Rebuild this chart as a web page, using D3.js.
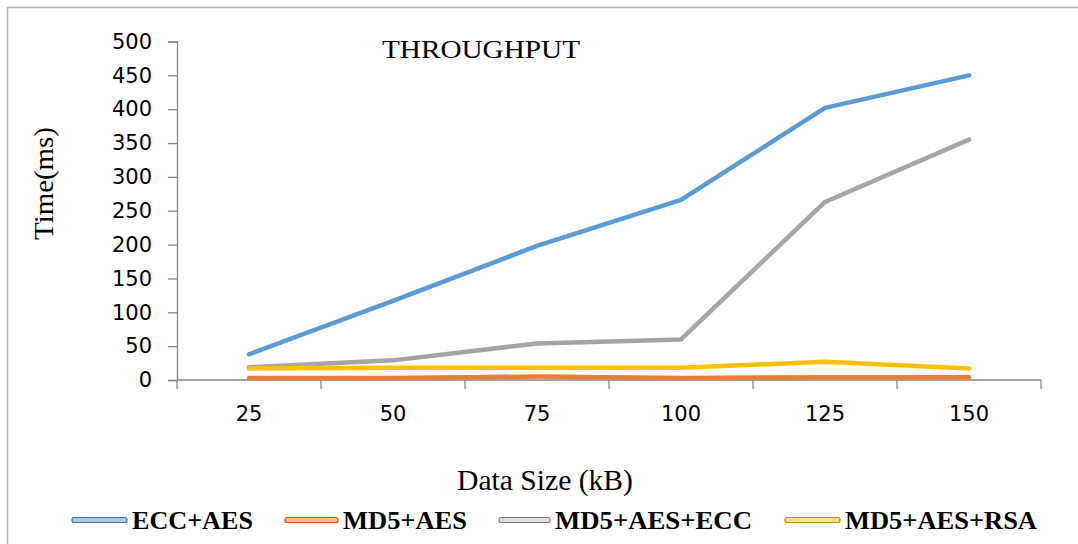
<!DOCTYPE html>
<html>
<head>
<meta charset="utf-8">
<script src="https://cdn.jsdelivr.net/npm/d3@7"></script>
<style>
  body { margin: 0; background: #fff; }
  svg { display: block; }
</style>
</head>
<body>
<svg id="chart" width="1078" height="544"></svg>
<script>
// data
const categories = ['25', '50', '75', '100', '125', '150'];
const eccAes     = [38, 117, 198, 266, 402, 450];
const md5Aes     = [3, 3, 5, 3, 4, 4];
const md5AesEcc  = [19, 29, 54, 60, 263, 355];
const md5AesRsa  = [17, 18, 18, 18, 27, 17];
const seriesNames = ['ECC+AES', 'MD5+AES', 'MD5+AES+ECC', 'MD5+AES+RSA'];
const yTicks = [0, 50, 100, 150, 200, 250, 300, 350, 400, 450, 500];

const series = [
  { name: seriesNames[0], values: eccAes,    color: '#5b9bd5', light: '#a9cbea', dark: '#41719c' },
  { name: seriesNames[1], values: md5Aes,    color: '#ed7d31', light: '#f6b98f', dark: '#c55a11' },
  { name: seriesNames[2], values: md5AesEcc, color: '#a5a5a5', light: '#dedede', dark: '#7f7f7f' },
  { name: seriesNames[3], values: md5AesRsa, color: '#ffc000', light: '#ffe38a', dark: '#bf9000' }
];

const svg = d3.select('#chart');
const axisColor = '#868686';
const serif = '"Liberation Serif", "Times New Roman", serif';

// outer chart border (right/bottom are off the picture)
svg.append('path')
  .attr('d', 'M7.5,560 L7.5,7.5 L1090,7.5')
  .attr('fill', 'none')
  .attr('stroke', '#b4b4b4')
  .attr('stroke-width', 1.5);

const x = d3.scaleBand().domain(categories).range([177, 1041]).padding(0);
const y = d3.scaleLinear().domain([0, 500]).range([380, 41.5]);

// y axis
const yAxis = svg.append('g')
  .attr('transform', 'translate(177,0)')
  .call(d3.axisLeft(y).tickValues(yTicks).tickSize(9).tickPadding(16).tickFormat(d3.format('d')));
yAxis.select('.domain').attr('stroke', axisColor).attr('stroke-width', 1.3);
yAxis.selectAll('.tick line').attr('stroke', axisColor).attr('stroke-width', 1.3);
yAxis.selectAll('.tick text')
  .attr('fill', '#000')
  .attr('font-family', '"DejaVu Sans", Verdana, sans-serif')
  .attr('font-size', 21);

// x axis: category axis with ticks between categories
const xg = svg.append('g');
xg.append('line')
  .attr('x1', x.range()[0]).attr('x2', x.range()[1])
  .attr('y1', y(0)).attr('y2', y(0))
  .attr('stroke', axisColor).attr('stroke-width', 1.3);
const bounds = categories.map(c => x(c)).concat([x.range()[1]]);
xg.selectAll('line.tick')
  .data(bounds)
  .enter().append('line')
    .attr('class', 'tick')
    .attr('x1', d => d).attr('x2', d => d)
    .attr('y1', y(0)).attr('y2', y(0) + 9)
    .attr('stroke', axisColor).attr('stroke-width', 1.3);
xg.selectAll('text')
  .data(categories)
  .enter().append('text')
    .attr('x', d => x(d) + x.bandwidth() / 2)
    .attr('y', 421)
    .attr('text-anchor', 'middle')
    .attr('font-family', '"DejaVu Sans", Verdana, sans-serif')
    .attr('font-size', 21)
    .text(d => d);

// lines
const line = d3.line()
  .x((d, i) => x(categories[i]) + x.bandwidth() / 2)
  .y(d => y(d));

svg.append('g').selectAll('path')
  .data(series)
  .enter().append('path')
    .attr('d', d => line(d.values))
    .attr('fill', 'none')
    .attr('stroke', d => d.color)
    .attr('stroke-width', 4.5)
    .attr('stroke-linejoin', 'round')
    .attr('stroke-linecap', 'round');

// title
svg.append('text')
  .attr('x', 382).attr('y', 58)
  .attr('font-family', serif)
  .attr('font-size', 25)
  .attr('textLength', 198)
  .attr('lengthAdjust', 'spacingAndGlyphs')
  .text('THROUGHPUT');

// y axis title
svg.append('text')
  .attr('transform', 'translate(53,240) rotate(-90)')
  .attr('font-family', serif)
  .attr('font-size', 28)
  .attr('textLength', 113)
  .attr('lengthAdjust', 'spacingAndGlyphs')
  .text('Time(ms)');

// x axis title
svg.append('text')
  .attr('x', 457).attr('y', 490)
  .attr('font-family', serif)
  .attr('font-size', 29)
  .attr('textLength', 176)
  .attr('lengthAdjust', 'spacingAndGlyphs')
  .text('Data Size (kB)');

// legend
const legendPos = [
  { sx: 72,  sw: 55, tx: 132, tw: 121 },
  { sx: 285, sw: 53, tx: 343, tw: 124 },
  { sx: 499, sw: 51, tx: 555, tw: 197 },
  { sx: 785, sw: 55, tx: 845, tw: 192 }
];
const legend = svg.append('g');
const items = legend.selectAll('g')
  .data(series)
  .enter().append('g');
items.append('rect')
  .attr('x', (d, i) => legendPos[i].sx)
  .attr('y', 517.5)
  .attr('width', (d, i) => legendPos[i].sw)
  .attr('height', 5)
  .attr('rx', 2)
  .attr('fill', d => d.light)
  .attr('stroke', d => d.dark)
  .attr('stroke-width', 1.2);
items.append('text')
  .attr('x', (d, i) => legendPos[i].tx)
  .attr('y', 528.5)
  .attr('font-family', serif)
  .attr('font-weight', 'bold')
  .attr('font-size', 25)
  .attr('textLength', (d, i) => legendPos[i].tw)
  .attr('lengthAdjust', 'spacingAndGlyphs')
  .text(d => d.name);
</script>
</body>
</html>
